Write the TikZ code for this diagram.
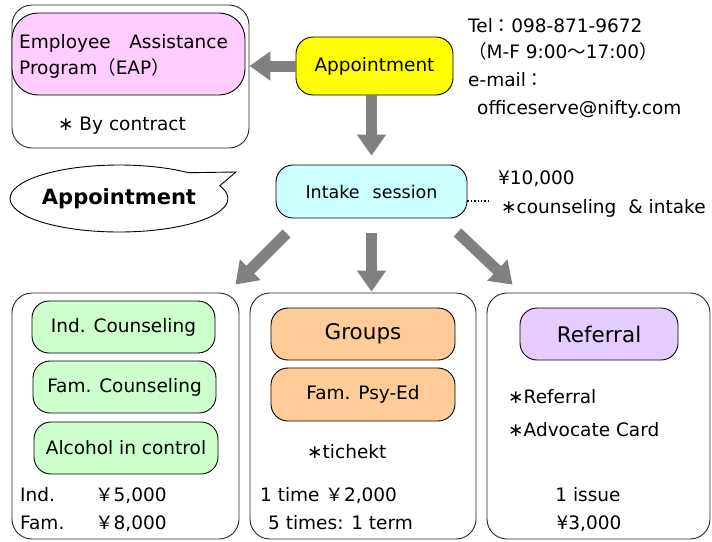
\documentclass[tikz,border=0pt]{standalone}
\usepackage{fontspec}
\setmainfont{DejaVu Sans}
\newfontfamily\cjk{Noto Sans CJK JP}
\usetikzlibrary{arrows.meta,calc,shapes.callouts}
\newcommand{\fw}[1]{{\cjk #1}}
\definecolor{eappink}{HTML}{FFCCFF}
\definecolor{apptyellow}{HTML}{FFFF00}
\definecolor{intakecyan}{HTML}{CCFFFF}
\definecolor{counselgreen}{HTML}{CCFFCC}
\definecolor{grouporange}{HTML}{FFCC99}
\definecolor{referpurple}{HTML}{E5CCFF}
\definecolor{arrowgray}{HTML}{808080}

\begin{document}
\begin{tikzpicture}[x=1pt,y=-1pt,
  every node/.style={inner sep=0pt, font=\fontsize{18.5}{22}\selectfont},
  frame/.style={draw=black!85, line width=0.9pt, rounded corners=20pt},
  box/.style={draw=black, line width=0.9pt, rounded corners=17pt},
  txt/.style={anchor=base west},
  bigarrow/.style={draw=arrowgray, line width=11pt, -{Triangle[width=28pt,length=21pt]}}]
\useasboundingbox (0,0) rectangle (712,541);
\node [frame, minimum width=237pt, minimum height=143pt] (eapframe) at (130.5,76.5) {};
\node [box, fill=eappink, rounded corners=26pt, minimum width=233pt, minimum height=82pt] (eap) at (128.5,54) {};
\node [anchor=base west, align=left, font=\fontsize{18.5}{26}\selectfont] (eaptext) at (19,74) {Employee\fw{　}Assistance\\Program\fw{（}EAP\fw{）}};
\node [anchor=base] (contract) at (122,130) {∗ By contract};
\node [box, fill=apptyellow, minimum width=157pt, minimum height=58pt] (appt) at (374.5,66) {Appointment};
\node [txt] (tel) at (468,32) {Tel\fw{：}098-871-9672};
\node [txt] (hours) at (468,58) {\fw{（}M-F 9:00\fw{～}17:00\fw{）}};
\node [txt] (mail) at (468,86) {e-mail\fw{：}};
\node [txt] (address) at (477,114) {officeserve@nifty.com};
\node [box, fill=intakecyan, minimum width=191pt, minimum height=53pt, font=\fontsize{17.5}{21}\selectfont] (intake) at (371.5,191.5) {Intake\hspace{13pt}session\hspace{6pt}};
\coordinate (dotend) at (490,201);
\draw [dotted, line width=1.4pt] ([yshift=-9.5pt]intake.east) -- (dotend);
\node [txt] (fee) at (498,184) {¥10,000};
\node [txt] (feenote) at (501,213) {∗counseling\hspace{12pt}\& intake};
\coordinate (bubbletip) at (236,172);
\node [ellipse callout, draw, fill=white, line width=0.9pt, minimum width=214pt, minimum height=67pt, callout absolute pointer={(bubbletip)}, callout pointer arc=28, font=\fontsize{21}{24}\selectfont\bfseries] (bubble) at (119,198.5) {Appointment};
\node [frame, minimum width=227pt, minimum height=246pt] (frameL) at (125.5,416) {};
\node [frame, minimum width=226pt, minimum height=246pt] (frameM) at (363,416) {};
\node [frame, minimum width=223pt, minimum height=246pt] (frameR) at (598.5,416) {};
\node [box, fill=counselgreen, minimum width=183pt, minimum height=52pt] (indcoun) at (123.5,327) {Ind. Counseling};
\node [box, fill=counselgreen, minimum width=183pt, minimum height=52pt] (famcoun) at (124.5,387) {Fam. Counseling};
\node [box, fill=counselgreen, minimum width=184pt, minimum height=52pt] (alcohol) at (126,448) {Alcohol in control};
\node [txt] (indlbl) at (20,501) {Ind.};
\node [txt] (indfee) at (95,501) {\fw{￥}5,000};
\node [txt] (famlbl) at (20,529) {Fam.};
\node [txt] (famfee) at (95,529) {\fw{￥}8,000};
\node [box, fill=grouporange, minimum width=184pt, minimum height=52pt, font=\fontsize{21.5}{25}\selectfont] (groups) at (363,334) {Groups};
\node [box, fill=grouporange, minimum width=184pt, minimum height=53pt] (psyed) at (363,394.5) {Fam. Psy-Ed};
\node [txt] (ticket) at (307,458) {∗tichekt};
\node [txt] (onetime) at (260,501) {1 time \fw{￥}2,000};
\node [txt] (fivetimes) at (268,529) {5 times: 1 term};
\node [box, fill=referpurple, minimum width=158pt, minimum height=52pt, font=\fontsize{21.5}{25}\selectfont] (referral) at (599,334) {Referral};
\node [txt] (refnote) at (508,403) {∗Referral};
\node [txt] (cardnote) at (508,436) {∗Advocate Card};
\node [anchor=base] (issue) at (588,501) {1 issue};
\node [anchor=base] (cardfee) at (589,529) {¥3,000};
\draw [bigarrow] (appt.west) -- (appt.west -| eapframe.east);
\draw [bigarrow, shorten >=9pt] (appt.south -| intake.north) -- (intake.north);
\draw [bigarrow] ($(intake.south west)+(11,15)$) -- ($(frameL.north east)+(-4,-8)$);
\draw [bigarrow, shorten <=15pt, shorten >=1pt] (intake.south) -- (intake.south |- frameM.north);
\draw [bigarrow] ($(intake.south east)+(-10,14)$) -- ($(frameR.north west)+(26,-8)$);
\end{tikzpicture}
\end{document}
